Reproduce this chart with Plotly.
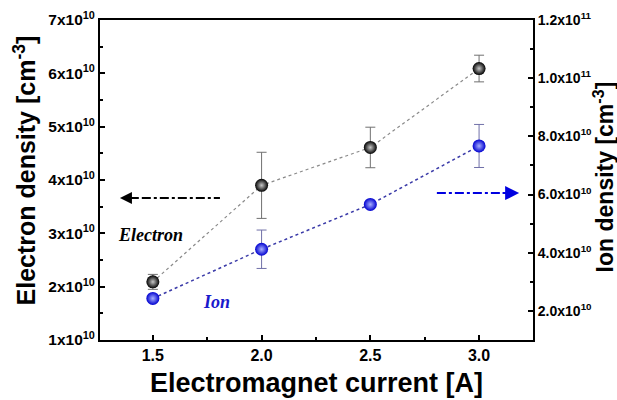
import plotly.graph_objects as go

current = [1.5, 2.0, 2.5, 3.0]
electron = [2.09e10, 3.90e10, 4.61e10, 6.09e10]
electron_err = [0.14e10, 0.62e10, 0.38e10, 0.25e10]
ion = [2.43e10, 4.12e10, 5.66e10, 7.67e10]
ion_err = [0.0, 0.66e10, 0.0, 0.74e10]

x_tickvals = [1.5, 2.0, 2.5, 3.0]
x_ticktext = ["1.5", "2.0", "2.5", "3.0"]
left_tickvals = [1e10, 2e10, 3e10, 4e10, 5e10, 6e10, 7e10]
left_ticktext = ["1x10<sup>10</sup>", "2x10<sup>10</sup>", "3x10<sup>10</sup>", "4x10<sup>10</sup>",
                 "5x10<sup>10</sup>", "6x10<sup>10</sup>", "7x10<sup>10</sup>"]
right_tickvals = [2e10, 4e10, 6e10, 8e10, 1.0e11, 1.2e11]
right_ticktext = ["2.0x10<sup>10</sup>", "4.0x10<sup>10</sup>", "6.0x10<sup>10</sup>", "8.0x10<sup>10</sup>",
                  "1.0x10<sup>11</sup>", "1.2x10<sup>11</sup>"]

FONT = "Liberation Sans, Arial, sans-serif"


def bold(labels):
    return ["<b>" + t + "</b>" for t in labels]


fig = go.Figure()
fig.add_trace(go.Scatter(
    x=current, y=electron, mode="lines+markers", name="Electron",
    line=dict(color="#8a8a8a", width=1.2, dash="dot"),
    marker=dict(size=13, color="#000000", gradient=dict(type="radial", color="#c8c8c8"),
                line=dict(width=0)),
    error_y=dict(type="data", array=electron_err, color="#707070", thickness=1, width=5),
))
fig.add_trace(go.Scatter(
    x=current, y=ion, mode="lines+markers", name="Ion", yaxis="y2",
    line=dict(color="#3a3aa8", width=1.5, dash="dot"),
    marker=dict(size=13, color="#0000d0", gradient=dict(type="radial", color="#a8b0ff"),
                line=dict(width=0)),
    error_y=dict(type="data", array=ion_err, color="#7070a8", thickness=1, width=5),
))

fig.update_layout(
    width=617, height=400,
    margin=dict(l=100, r=84, t=20, b=60, autoexpand=False),
    paper_bgcolor="white", plot_bgcolor="white",
    showlegend=False,
    font=dict(family=FONT, color="black"),
)
fig.update_xaxes(
    range=[1.257, 3.248], tickmode="array", tickvals=x_tickvals, ticktext=bold(x_ticktext),
    ticks="inside", ticklen=5, tickwidth=1.5, tickcolor="black",
    minor=dict(tickvals=[1.75, 2.25, 2.75], ticks="inside", ticklen=3, tickcolor="black", tickwidth=1.5),
    showline=True, linecolor="black", linewidth=2, mirror=True,
    showgrid=False, zeroline=False, automargin=False,
    tickfont_size=16, tickfont_family=FONT, tickfont_color="black",
)
fig.update_layout(
    yaxis=dict(
        range=[1e10, 7e10], tickmode="array", tickvals=left_tickvals, ticktext=bold(left_ticktext),
        ticks="inside", ticklen=5, tickwidth=1.5, tickcolor="black",
        minor=dict(tickvals=[1.5e10, 2.5e10, 3.5e10, 4.5e10, 5.5e10, 6.5e10], ticks="inside",
                   ticklen=3, tickcolor="black", tickwidth=1.5),
        showline=True, linecolor="black", linewidth=2,
        showgrid=False, zeroline=False, automargin=False,
        tickfont=dict(size=15.5, family=FONT, color="black"),
    ),
    yaxis2=dict(
        overlaying="y", side="right",
        range=[1e10, 1.2e11], tickmode="array", tickvals=right_tickvals, ticktext=bold(right_ticktext),
        ticks="inside", ticklen=5, tickwidth=1.5, tickcolor="black",
        minor=dict(tickvals=[3e10, 5e10, 7e10, 9e10, 1.1e11], ticks="inside",
                   ticklen=3, tickcolor="black", tickwidth=1.5),
        showline=True, linecolor="black", linewidth=2,
        showgrid=False, zeroline=False, automargin=False,
        tickfont=dict(size=14, family=FONT, color="black"),
    ),
)

# Axis titles
fig.add_annotation(xref="paper", yref="paper", x=0.501, y=-0.134, xanchor="center", yanchor="middle",
                   showarrow=False, text="<b>Electromagnet current [A]</b>", font=dict(size=27))
fig.add_annotation(xref="paper", yref="paper", x=-0.173, y=0.53, xanchor="center", yanchor="middle",
                   showarrow=False, textangle=-90,
                   text="<b>Electron density [cm<sup>-3</sup>]</b>", font=dict(size=25))
fig.add_annotation(xref="paper", yref="paper", x=1.163, y=0.51, xanchor="center", yanchor="middle",
                   showarrow=False, textangle=-90,
                   text="<b>Ion density [cm<sup>-3</sup>]</b>", font=dict(size=23))

# Direction arrows (paper coordinates)
fig.add_shape(type="line", xref="paper", yref="paper", x0=0.055, x1=0.277, y0=0.444, y1=0.444,
              line=dict(color="black", width=2, dash="dashdot"))
fig.add_annotation(xref="paper", yref="paper", x=0.046, y=0.444, ax=18, ay=0,
                   showarrow=True, arrowhead=2, arrowsize=1.2,
                   arrowwidth=2, arrowcolor="black", text="")
fig.add_shape(type="line", xref="paper", yref="paper", x0=0.778, x1=0.935, y0=0.459, y1=0.459,
              line=dict(color="#0000e0", width=2, dash="dashdot"))
fig.add_annotation(xref="paper", yref="paper", x=0.968, y=0.459, ax=-18, ay=0,
                   showarrow=True, arrowhead=2, arrowsize=1.4,
                   arrowwidth=2, arrowcolor="#0000e0", text="")

fig.add_annotation(xref="paper", yref="paper", x=0.037, y=0.328, xanchor="left", yanchor="middle",
                   showarrow=False, text="<b><i>Electron</i></b>",
                   font=dict(family="Liberation Serif, Times New Roman, serif", size=18, color="black"))
fig.add_annotation(xref="paper", yref="paper", x=0.234, y=0.119, xanchor="left", yanchor="middle",
                   showarrow=False, text="<b><i>Ion</i></b>",
                   font=dict(family="Liberation Serif, Times New Roman, serif", size=18, color="#1a1acc"))

fig.write_html("out.html", config={"displayModeBar": False},
               post_script="document.body.style.margin='0';")
